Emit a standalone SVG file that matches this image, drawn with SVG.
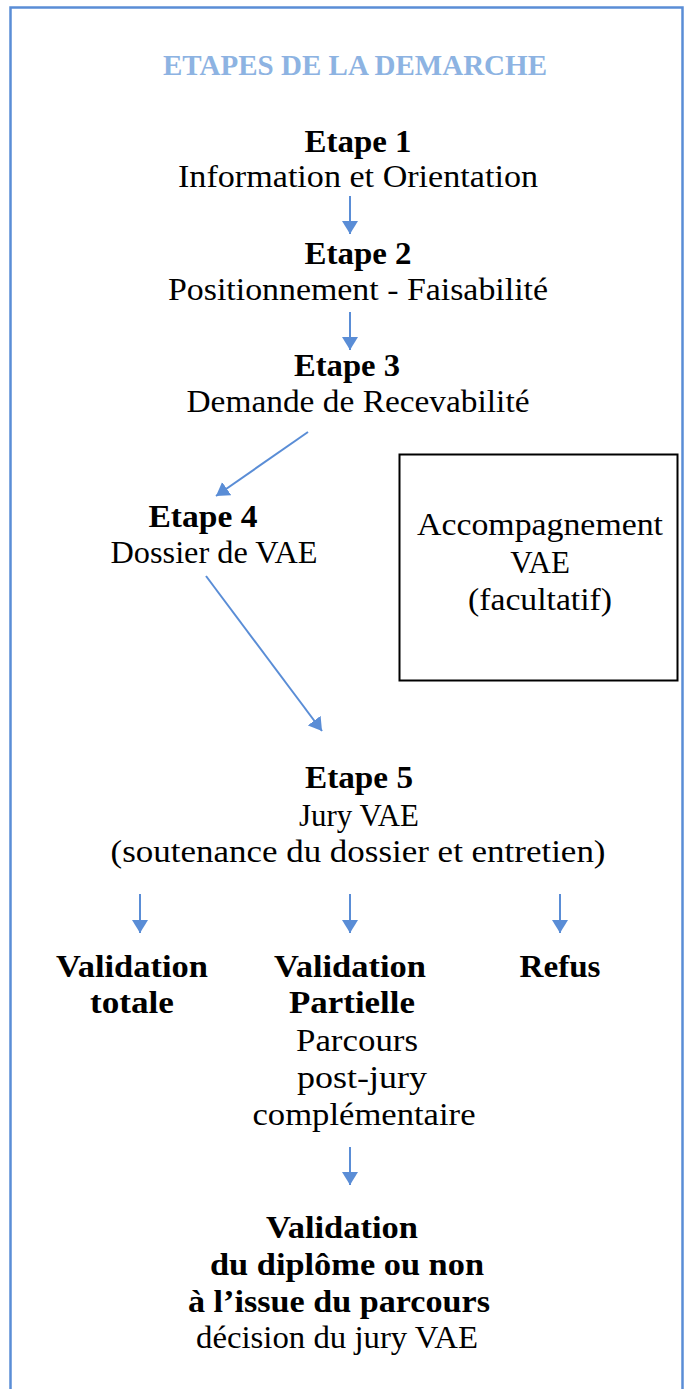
<svg xmlns="http://www.w3.org/2000/svg" width="685" height="1389" viewBox="0 0 685 1389">
<style>
text{font-family:"Liberation Serif","Times New Roman",serif;font-size:31px;fill:#000;text-anchor:middle}
.b{font-weight:bold}
.title{font-weight:bold;font-size:30px;fill:#8db3e2}
.conn line{stroke:#5a8dd6;stroke-width:2;fill:none}
</style>
<defs>
<marker id="ah" markerUnits="userSpaceOnUse" markerWidth="14" markerHeight="16" viewBox="0 0 14 16" refX="13" refY="8" orient="auto">
<path d="M0,0 L13,8 L0,16 Z" fill="#5a8dd6"/>
</marker>
</defs>
<rect x="0" y="0" width="685" height="1389" fill="#fff"/>
<rect x="10.5" y="7.5" width="672" height="1400" fill="none" stroke="#5a8dd6" stroke-width="2.5"/>
<g id="title"><text class="title" x="355" y="75" textLength="384" lengthAdjust="spacingAndGlyphs">ETAPES DE LA DEMARCHE</text></g>
<g id="etape1">
<text class="b" x="358" y="152" textLength="107" lengthAdjust="spacingAndGlyphs">Etape 1</text>
<text x="358" y="187" textLength="360" lengthAdjust="spacingAndGlyphs">Information et Orientation</text>
</g>
<g id="etape2">
<text class="b" x="358" y="264" textLength="107" lengthAdjust="spacingAndGlyphs">Etape 2</text>
<text x="358" y="300" textLength="380" lengthAdjust="spacingAndGlyphs">Positionnement - Faisabilité</text>
</g>
<g id="etape3">
<text class="b" x="347" y="376" textLength="106" lengthAdjust="spacingAndGlyphs">Etape 3</text>
<text x="358" y="412" textLength="343" lengthAdjust="spacingAndGlyphs">Demande de Recevabilité</text>
</g>
<g id="etape4">
<text class="b" x="203" y="527" textLength="109" lengthAdjust="spacingAndGlyphs">Etape 4</text>
<text x="214" y="563" textLength="207" lengthAdjust="spacingAndGlyphs">Dossier de VAE</text>
</g>
<g id="accompagnement">
<rect x="399.5" y="454.5" width="278" height="226" fill="none" stroke="#000" stroke-width="2"/>
<text x="540" y="535" textLength="246" lengthAdjust="spacingAndGlyphs">Accompagnement</text>
<text x="540" y="573">VAE</text>
<text x="540" y="610" textLength="144" lengthAdjust="spacingAndGlyphs">(facultatif)</text>
</g>
<g id="etape5">
<text class="b" x="359" y="788" textLength="108" lengthAdjust="spacingAndGlyphs">Etape 5</text>
<text x="359" y="826" textLength="120" lengthAdjust="spacingAndGlyphs">Jury VAE</text>
<text x="358" y="862" textLength="495" lengthAdjust="spacingAndGlyphs">(soutenance du dossier et entretien)</text>
</g>
<g id="validation-totale">
<text class="b" x="132" y="977" textLength="152" lengthAdjust="spacingAndGlyphs">Validation</text>
<text class="b" x="132" y="1013" textLength="84" lengthAdjust="spacingAndGlyphs">totale</text>
</g>
<g id="validation-partielle">
<text class="b" x="350" y="977" textLength="152" lengthAdjust="spacingAndGlyphs">Validation</text>
<text class="b" x="352" y="1013" textLength="126" lengthAdjust="spacingAndGlyphs">Partielle</text>
<text x="357" y="1051" textLength="122" lengthAdjust="spacingAndGlyphs">Parcours</text>
<text x="362" y="1088" textLength="130" lengthAdjust="spacingAndGlyphs">post-jury</text>
<text x="364" y="1125" textLength="223" lengthAdjust="spacingAndGlyphs">complémentaire</text>
</g>
<g id="refus">
<text class="b" x="560" y="977" textLength="81" lengthAdjust="spacingAndGlyphs">Refus</text>
</g>
<g id="validation-diplome">
<text class="b" x="342" y="1238" textLength="152" lengthAdjust="spacingAndGlyphs">Validation</text>
<text class="b" x="347" y="1275" textLength="274" lengthAdjust="spacingAndGlyphs">du diplôme ou non</text>
<text class="b" x="339" y="1312" textLength="302" lengthAdjust="spacingAndGlyphs">à l’issue du parcours</text>
<text x="337" y="1348" textLength="282" lengthAdjust="spacingAndGlyphs">décision du jury VAE</text>
</g>
<g class="conn" id="connectors">
<line x1="350" y1="196" x2="350" y2="234" marker-end="url(#ah)"/>
<line x1="350" y1="312" x2="350" y2="350" marker-end="url(#ah)"/>
<line x1="308" y1="432" x2="216" y2="496" marker-end="url(#ah)"/>
<line x1="206" y1="576" x2="322" y2="731" marker-end="url(#ah)"/>
<line x1="140" y1="894" x2="140" y2="933" marker-end="url(#ah)"/>
<line x1="350" y1="894" x2="350" y2="933" marker-end="url(#ah)"/>
<line x1="560" y1="894" x2="560" y2="933" marker-end="url(#ah)"/>
<line x1="350" y1="1147" x2="350" y2="1185" marker-end="url(#ah)"/>
</g>
</svg>
